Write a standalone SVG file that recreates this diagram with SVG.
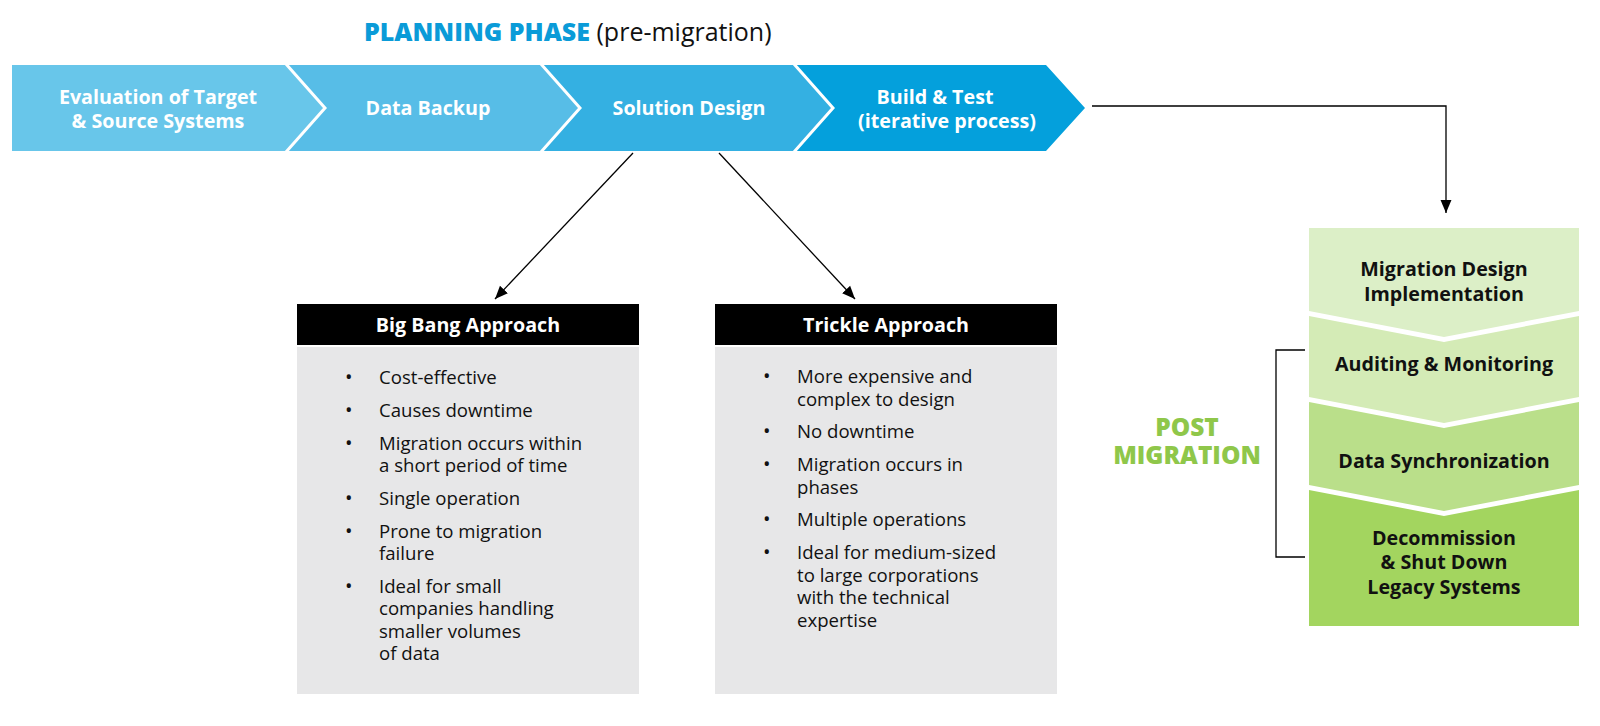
<svg xmlns="http://www.w3.org/2000/svg" width="1600" height="726" viewBox="0 0 1600 726">
<defs>
<style>
.t{font-family:"Open Sans","Liberation Sans",sans-serif}
.cw{font-family:"Open Sans","Liberation Sans",sans-serif;font-weight:700;font-size:19.7px;fill:#fff;text-anchor:middle}
.gk{font-family:"Open Sans","Liberation Sans",sans-serif;font-weight:700;font-size:19.7px;fill:#111;text-anchor:middle}
.hd{font-family:"Open Sans","Liberation Sans",sans-serif;font-weight:700;font-size:19.7px;fill:#fff;text-anchor:middle}
.bl{font-family:"Open Sans","Liberation Sans",sans-serif;font-size:18.6px;fill:#111}
.dot{font-size:20px}
.sep{fill:none;stroke:#fff;stroke-width:3}
.con{fill:none;stroke:#000;stroke-width:1.3}
</style>
<marker id="ah" viewBox="0 0 10 10" refX="10" refY="5" markerWidth="13" markerHeight="13" markerUnits="userSpaceOnUse" orient="auto">
<path d="M0,0.8 L10,5 L0,9.2 Z" fill="#000"/>
</marker>
</defs>
<rect width="1600" height="726" fill="#fff"/>

<g id="title">
<text class="t" x="364" y="41" font-size="25" font-weight="800" fill="#0a9bd8">PLANNING PHASE <tspan font-weight="400" fill="#111">(pre-migration)</tspan></text>
</g>

<g id="chevron-evaluation">
<polygon points="12,65 286,65 325,108 286,151 12,151" fill="#68c6ea"/>
<text class="cw" x="158" y="104">Evaluation of Target</text>
<text class="cw" x="158" y="128">&amp; Source Systems</text>
</g>
<g id="chevron-backup">
<polygon points="286,65 541,65 580,108 541,151 286,151 325,108" fill="#57bde7"/>
<text class="cw" x="428" y="115">Data Backup</text>
</g>
<g id="chevron-solution">
<polygon points="541,65 794,65 833,108 794,151 541,151 580,108" fill="#34b0e2"/>
<text class="cw" x="689" y="115">Solution Design</text>
</g>
<g id="chevron-build">
<polygon points="794,65 1046,65 1085,108 1046,151 794,151 833,108" fill="#04a0dc"/>
<text class="cw" x="935" y="104">Build &amp; Test</text>
<text class="cw" x="947" y="128">(iterative process)</text>
</g>
<g id="chevron-separators">
<polyline class="sep" points="286,64 325,108 286,152"/>
<polyline class="sep" points="541,64 580,108 541,152"/>
<polyline class="sep" points="794,64 833,108 794,152"/>
</g>

<g id="big-bang">
<rect x="297" y="304" width="342" height="41" fill="#000"/>
<text class="hd" x="468" y="332">Big Bang Approach</text>
<rect x="297" y="347" width="342" height="347" fill="#e7e7e8"/>
<g class="bl">
<text class="dot" x="345" y="383.5">•</text><text x="379" y="383.5">Cost-effective</text>
<text class="dot" x="345" y="416.5">•</text><text x="379" y="416.5">Causes downtime</text>
<text class="dot" x="345" y="449.5">•</text><text x="379" y="449.5">Migration occurs within</text>
<text x="379" y="472">a short period of time</text>
<text class="dot" x="345" y="504.5">•</text><text x="379" y="504.5">Single operation</text>
<text class="dot" x="345" y="537.5">•</text><text x="379" y="537.5">Prone to migration</text>
<text x="379" y="560">failure</text>
<text class="dot" x="345" y="592.5">•</text><text x="379" y="592.5">Ideal for small</text>
<text x="379" y="615">companies handling</text>
<text x="379" y="637.5">smaller volumes</text>
<text x="379" y="660">of data</text>
</g>
</g>

<g id="trickle">
<rect x="715" y="304" width="342" height="41" fill="#000"/>
<text class="hd" x="886" y="332">Trickle Approach</text>
<rect x="715" y="347" width="342" height="347" fill="#e7e7e8"/>
<g class="bl">
<text class="dot" x="763" y="383">•</text><text x="797" y="383">More expensive and</text>
<text x="797" y="405.5">complex to design</text>
<text class="dot" x="763" y="438">•</text><text x="797" y="438">No downtime</text>
<text class="dot" x="763" y="471">•</text><text x="797" y="471">Migration occurs in</text>
<text x="797" y="493.5">phases</text>
<text class="dot" x="763" y="526">•</text><text x="797" y="526">Multiple operations</text>
<text class="dot" x="763" y="559">•</text><text x="797" y="559">Ideal for medium-sized</text>
<text x="797" y="581.5">to large corporations</text>
<text x="797" y="604">with the technical</text>
<text x="797" y="626.5">expertise</text>
</g>
</g>

<g id="post-migration-label">
<text class="t" font-size="24.5" font-weight="800" fill="#8fc74a" text-anchor="middle"><tspan x="1187" y="436">POST</tspan><tspan x="1187" y="464">MIGRATION</tspan></text>
</g>

<g id="post-migration-steps">
<g id="step-design">
<polygon points="1309,228 1579,228 1579,311 1444,337 1309,311" fill="#dcefc7"/>
<text class="gk" x="1444" y="276">Migration Design</text>
<text class="gk" x="1444" y="301">Implementation</text>
</g>
<g id="step-auditing">
<polygon points="1309,316 1444,342 1579,316 1579,397 1444,423 1309,397" fill="#d4ebb6"/>
<text class="gk" x="1444" y="371">Auditing &amp; Monitoring</text>
</g>
<g id="step-sync">
<polygon points="1309,402 1444,428 1579,402 1579,485 1444,511 1309,485" fill="#badf8a"/>
<text class="gk" x="1444" y="468">Data Synchronization</text>
</g>
<g id="step-decommission">
<polygon points="1309,490 1444,516 1579,490 1579,626 1309,626" fill="#a3d55f"/>
<text class="gk" x="1444" y="545">Decommission</text>
<text class="gk" x="1444" y="569">&amp; Shut Down</text>
<text class="gk" x="1444" y="594">Legacy Systems</text>
</g>
</g>

<g id="connectors">
<polyline class="con" points="1092,106 1446,106 1446,213" marker-end="url(#ah)"/>
<line class="con" x1="633" y1="153" x2="495" y2="299" marker-end="url(#ah)"/>
<line class="con" x1="719" y1="153" x2="855" y2="299" marker-end="url(#ah)"/>
<polyline class="con" points="1305,350 1276,350 1276,557 1305,557" stroke-width="1.5"/>
</g>
</svg>
